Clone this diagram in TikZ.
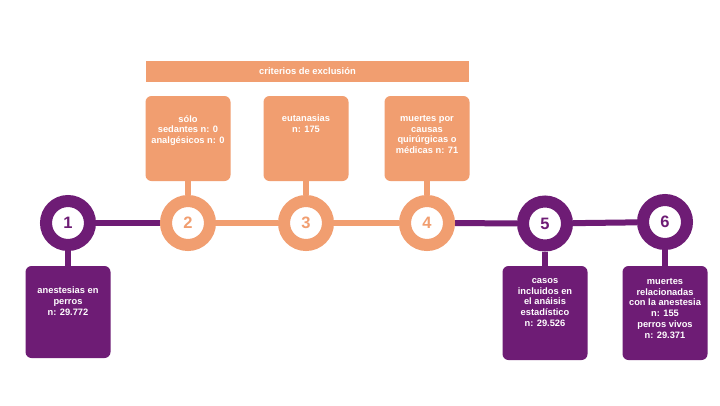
\documentclass[tikz,border=0pt]{standalone}
\usepackage{fontspec}
\setmainfont{Liberation Sans}
\usepackage{xcolor}
\usetikzlibrary{positioning}
\usetikzlibrary{backgrounds}
\definecolor{lila}{RGB}{110,28,117}
\definecolor{salmon}{RGB}{241,158,112}

\begin{document}
\begin{tikzpicture}
        [x=1pt,y=-1pt,
          ring/.style={circle,draw=#1,line width=12pt,fill=white,minimum size=44pt,
            inner sep=0pt,outer sep=6pt,text=#1,font=\fontsize{16.5}{18}\selectfont\bfseries},
          card/.style={rectangle,rounded corners=6pt,fill=#1,minimum width=85pt,
            inner sep=0pt,outer sep=0pt},
          cardtxt/.style={align=center,text=white,inner sep=0pt,
            font=\fontsize{9.3}{10.8}\selectfont\bfseries,execute at begin node=\strut},
          link/.style={line width=6pt,draw=#1}]
        \useasboundingbox (0,0) rectangle (720,405);
        % header
        \node[rectangle,fill=salmon,minimum width=323pt,minimum height=21pt,inner sep=0pt,
          text=white,font=\fontsize{9.4}{10}\selectfont\bfseries] (bar) at (307.5,71) {criterios de exclusión};
        % milestones
        \node[ring=lila] (c1) at (68,223) {1};
        \node[ring=salmon] (c2) at (188,223) {2};
        \node[ring=salmon] (c3) at (306,223) {3};
        \node[ring=salmon] (c4) at (427,223) {4};
        \node[ring=lila] (c5) at (545,223.5) {5};
        \node[ring=lila] (c6) at (665,222) {6};
        % cards
        \node[card=lila,minimum height=92pt,below=15pt of c1] (k1) {};
        \node[card=salmon,minimum height=85pt,above=14pt of c2] (k2) {};
        \node[card=salmon,minimum height=85pt,above=14pt of c3] (k3) {};
        \node[card=salmon,minimum height=85pt,above=14pt of c4] (k4) {};
        \node[card=lila,minimum height=94pt,below=14.5pt of c5] (k5) {};
        \node[card=lila,minimum height=94pt,below=16pt of c6] (k6) {};
        \node[cardtxt,below=21pt of k1.north] (t1) {anestesias en\\perros\\n: 29.772};
        \node[cardtxt,below=19pt of k2.north] (t2) {sólo\\sedantes n: 0\\analgésicos n: 0};
        \node[cardtxt,below=19pt of k3.north] (t3) {eutanasias\\n: 175};
        \node[cardtxt,below=19pt of k4.north] (t4) {muertes por\\causas\\quirúrgicas o\\médicas n: 71};
        \node[cardtxt,below=12pt of k5.north] (t5) {casos\\incluidos en\\el anáisis\\estadístico\\n: 29.526};
        \node[cardtxt,below=12pt of k6.north] (t6) {muertes\\relacionadas\\con la anestesia\\n: 155\\perros vivos\\n: 29.371};
        \begin{scope}[on background layer]
          \fill[white] (0,0) rectangle (720,405);
          \foreach \from/\to/\col in {c1/c2/lila,c2/c3/salmon,c3/c4/salmon,c4/c5/lila,c5/c6/lila,
            c1/k1/lila,c2/k2/salmon,c3/k3/salmon,c4/k4/salmon,c5/k5/lila,c6/k6/lila}
          \draw[link=\col] (\from) -- (\to);
        \end{scope}
      \end{tikzpicture}
\end{document}
